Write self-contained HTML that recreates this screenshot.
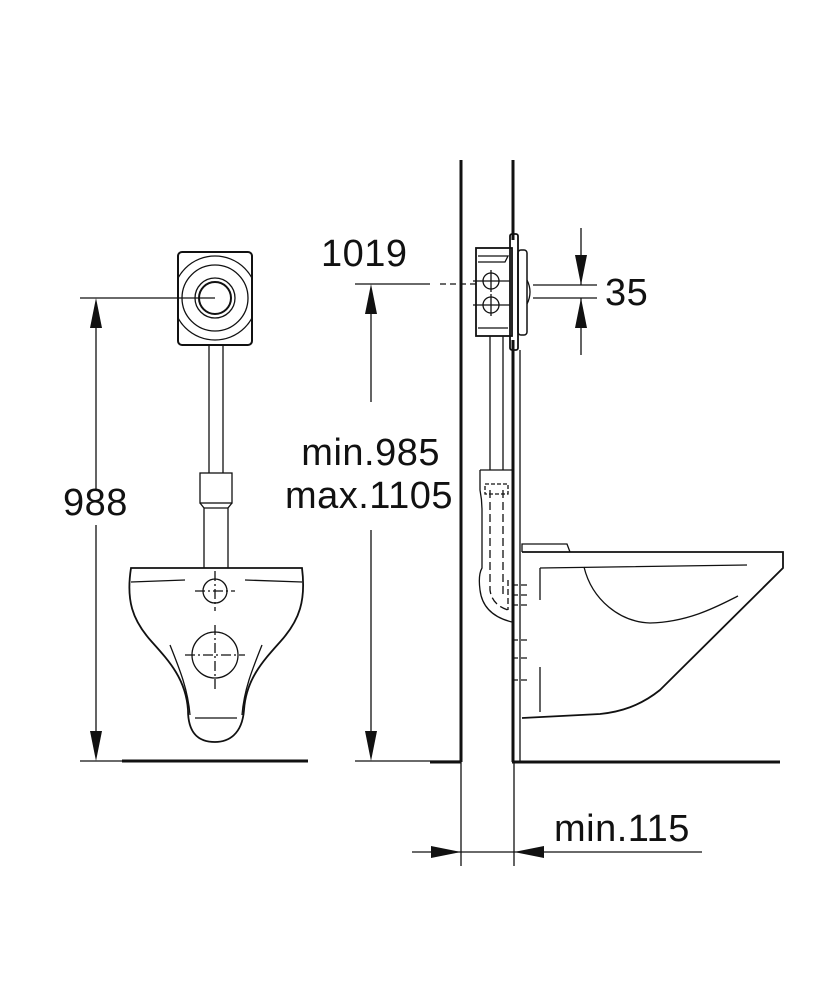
<!DOCTYPE html>
<html><head><style>body{margin:0;background:#fff}svg{display:block}text{font-family:"Liberation Sans",sans-serif;font-size:38px;letter-spacing:0.5px;fill:#111}</style></head>
<body>
<svg width="833" height="1000" viewBox="0 0 833 1000" xmlns="http://www.w3.org/2000/svg">
<defs><clipPath id="bx"><rect x="178" y="252" width="74" height="93"/></clipPath></defs>
<g fill="none" stroke="#111" stroke-width="1.3">
<rect x="178" y="252" width="74" height="93" rx="4" stroke-width="2"/>
<circle cx="215" cy="298" r="42" clip-path="url(#bx)"/>
<circle cx="215" cy="298" r="33"/>
<circle cx="215" cy="298" r="20"/>
<circle cx="215" cy="298" r="16" stroke-width="2"/>
<line x1="80" y1="298" x2="215" y2="298"/>
<line x1="209" y1="345" x2="209" y2="473"/><line x1="223" y1="345" x2="223" y2="473"/>
<rect x="200" y="473" width="32" height="30"/>
<path d="M200 503 L204 508 L204 568 M232 503 L228 508 L228 568"/>
<line x1="204" y1="508" x2="228" y2="508"/>
<path d="M131 568 L302 568 C306 600 300 620 280 642 C262 662 246 680 244 710 C242 735 228 742 215 742 C200 742 188 735 188 710 C186 680 170 662 152 642 C132 620 126 600 131 568 Z" stroke-width="1.8"/>
<path d="M131 582 L185 580 M245 580 L302 582"/>
<path d="M170 645 C180 670 188 690 190 715 M262 645 C252 670 244 690 242 715"/>
<line x1="195" y1="718" x2="237" y2="718"/>
<circle cx="215" cy="591" r="12"/>
<circle cx="215" cy="655" r="23"/>
<path d="M195 591 H235 M215 571 V611 M185 655 H245 M215 625 V690" stroke-dasharray="10 3 2 3"/>
<line x1="122" y1="761" x2="308" y2="761" stroke-width="3"/>
<line x1="80" y1="761" x2="122" y2="761"/>
<line x1="96" y1="310" x2="96" y2="490"/><line x1="96" y1="525" x2="96" y2="750"/>
<line x1="371" y1="296" x2="371" y2="402"/><line x1="371" y1="530" x2="371" y2="750"/>
<line x1="355" y1="284" x2="430" y2="284"/><line x1="440" y1="284" x2="476" y2="284" stroke-dasharray="6 4"/>
<line x1="355" y1="761" x2="460" y2="761"/>
<line x1="461" y1="160" x2="461" y2="762" stroke-width="3"/>
<line x1="513" y1="160" x2="513" y2="240" stroke-width="3"/>
<line x1="513" y1="340" x2="513" y2="762" stroke-width="3"/>
<line x1="520" y1="350" x2="520" y2="762"/>
<line x1="430" y1="762" x2="461" y2="762" stroke-width="3"/>
<line x1="512" y1="762" x2="780" y2="762" stroke-width="3"/>
<rect x="476" y="248" width="36" height="88" stroke-width="1.8"/>
<path d="M478 256 L508 256 L505 262 L478 262"/>
<path d="M478 328 H508"/>
<rect x="510" y="234" width="8" height="116" rx="2" stroke-width="1.8"/>
<rect x="518" y="250" width="9" height="85" rx="3" stroke-width="1.5"/>
<path d="M527 280 Q533 292 527 304"/>
<circle cx="491" cy="281" r="8"/><circle cx="491" cy="305" r="8"/>
<path d="M473 281 H510 M491 270 V292 M473 305 H510 M491 294 V316"/>
<path d="M490 336 V470 M503 336 V470"/>
<path d="M480 470 H512 M480 470 V490 Q482 500 482 510 V568 Q478 575 480 590 Q483 615 512 622"/>
<path d="M490 490 V590 Q492 605 508 610 M503 490 V598" stroke-dasharray="8 4"/>
<path d="M485 484 H508 V494 H485 Z" stroke-dasharray="4 2"/>
<path d="M508 580 V610 M512 585 H530 M512 595 H530 M512 605 H530 M512 640 H530 M512 658 H530 M512 680 H530" stroke-dasharray="6 3"/>
<path d="M522 552 L522 544 L567 544 L570 552"/>
<path d="M522 552 L783 552 L783 568 L660 690 C640 706 620 712 600 714 L522 718" stroke-width="1.8"/>
<path d="M540 568 L747 565 M540 568 V600 M540 667 V712"/>
<path d="M584 567 C592 600 620 622 650 623 C690 622 720 605 738 596"/>
<line x1="533" y1="285" x2="597" y2="285"/><line x1="533" y1="298" x2="597" y2="298"/>
<line x1="581" y1="228" x2="581" y2="285"/><line x1="581" y1="298" x2="581" y2="355"/>
<line x1="461" y1="762" x2="461" y2="866"/><line x1="514" y1="762" x2="514" y2="866"/>
<line x1="412" y1="852" x2="702" y2="852"/>
</g>
<g fill="#111">
<polygon points="96,298 90,328 102,328"/>
<polygon points="96,761 90,731 102,731"/>
<polygon points="371,284 365,314 377,314"/>
<polygon points="371,761 365,731 377,731"/>
<polygon points="581,285 575,255 587,255"/>
<polygon points="581,298 575,328 587,328"/>
<polygon points="461,852 431,846 431,858"/>
<polygon points="514,852 544,846 544,858"/>
</g>
<text x="63" y="515">988</text>
<text x="321" y="266">1019</text>
<text x="440" y="465" text-anchor="end">min.985</text>
<text x="453" y="508" text-anchor="end">max.1105</text>
<text x="605" y="305">35</text>
<text x="554" y="841">min.115</text>
</svg>
</body></html>
